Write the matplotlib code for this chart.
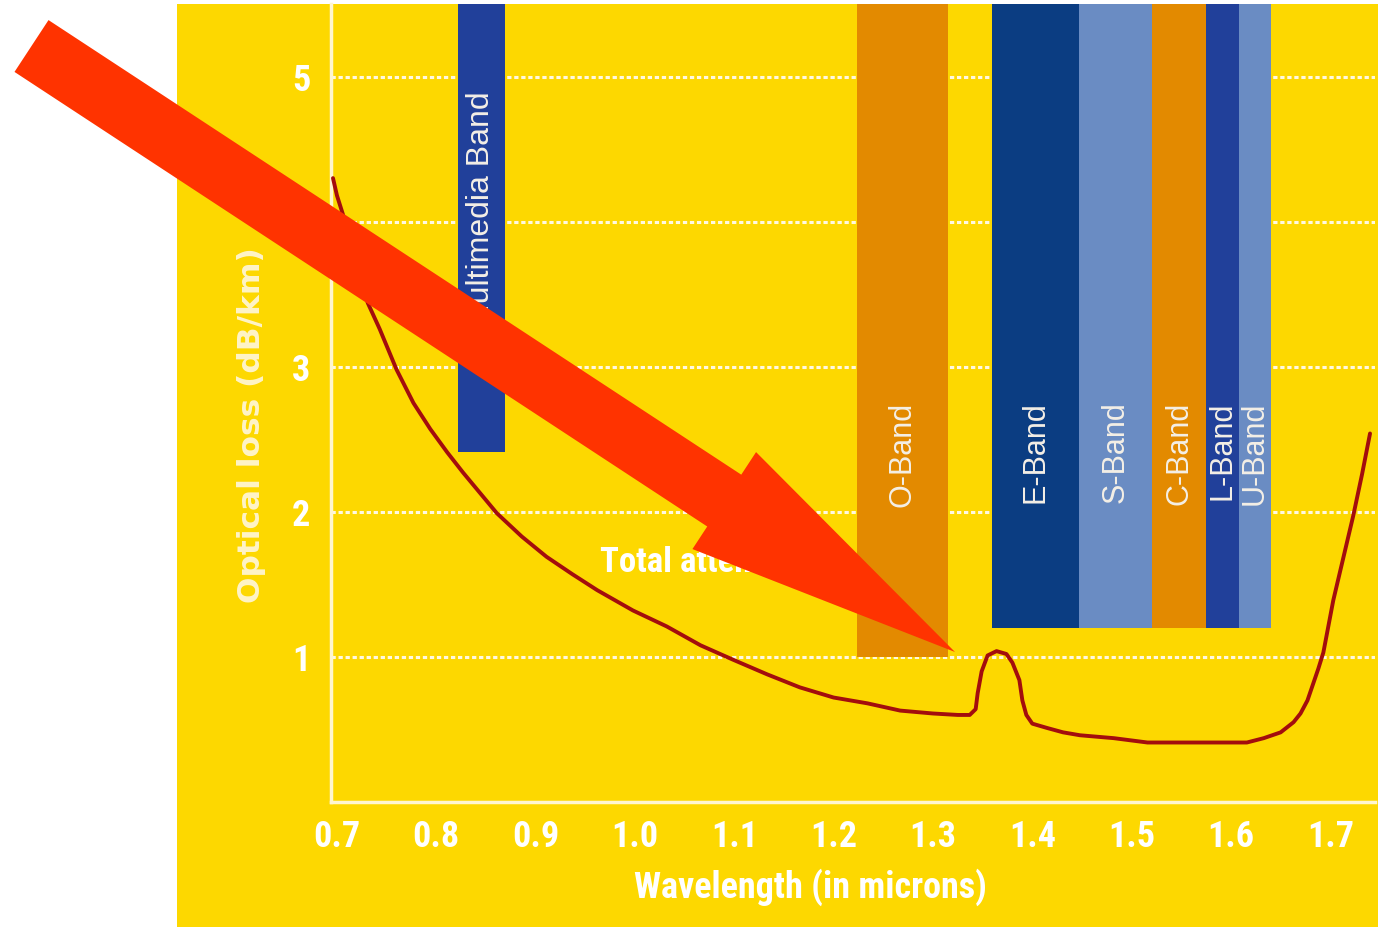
import numpy as np
import matplotlib
matplotlib.use('Agg')
import matplotlib.pyplot as plt
import matplotlib.transforms as mtransforms
from matplotlib.patches import Polygon, Rectangle
from matplotlib import font_manager

# Total attenuation curve (wavelength in microns, loss in dB/km)
wavelength = [0.696, 0.700, 0.706, 0.715, 0.731, 0.743, 0.760, 0.777, 0.794, 0.811,
              0.827, 0.844, 0.861, 0.886, 0.911, 0.937, 0.962, 0.998, 1.032, 1.066,
              1.099, 1.133, 1.166, 1.200, 1.234, 1.267, 1.300, 1.325, 1.337, 1.343,
              1.345, 1.349, 1.355, 1.364, 1.374, 1.380, 1.387, 1.390, 1.394, 1.400,
              1.415, 1.431, 1.448, 1.482, 1.516, 1.549, 1.582, 1.616, 1.633, 1.650,
              1.663, 1.670, 1.677, 1.683, 1.688, 1.693, 1.703, 1.713, 1.723, 1.732,
              1.740]
loss = [4.30, 4.18, 4.05, 3.80, 3.44, 3.26, 2.98, 2.75, 2.57, 2.41,
        2.27, 2.13, 1.99, 1.83, 1.69, 1.57, 1.46, 1.32, 1.21, 1.08,
        0.98, 0.88, 0.79, 0.72, 0.68, 0.63, 0.61, 0.60, 0.60, 0.64,
        0.75, 0.90, 1.01, 1.04, 1.02, 0.96, 0.84, 0.70, 0.60, 0.54,
        0.51, 0.48, 0.46, 0.44, 0.41, 0.41, 0.41, 0.41, 0.44, 0.48,
        0.55, 0.61, 0.70, 0.82, 0.92, 1.03, 1.39, 1.68, 1.97, 2.26,
        2.54]

# transmission bands
band_names = ['Multimedia Band', 'O-Band', 'E-Band', 'S-Band', 'C-Band', 'L-Band', 'U-Band']
band_start = [0.822, 1.224, 1.359, 1.447, 1.521, 1.575, 1.608]
band_end = [0.869, 1.315, 1.447, 1.521, 1.575, 1.608, 1.640]
band_floor = [2.41, 1.0, 1.2, 1.2, 1.2, 1.2, 1.2]
band_colors = ['#21409A', '#E38A00', '#0B3D82', '#6A8CC3', '#E38A00', '#21409A', '#6A8CC3']

x_ticks = [0.7, 0.8, 0.9, 1.0, 1.1, 1.2, 1.3, 1.4, 1.5, 1.6, 1.7]
y_ticks = [1, 2, 3, 4, 5]

yellow = '#FDD800'
W, H = 1378, 927

# look for a narrow bold face, the chart uses a condensed font
fonts = font_manager.fontManager.ttflist
names = {f.name for f in fonts}
narrow, stretch = None, 'normal'
for cand in ['Liberation Sans Narrow', 'Roboto Condensed', 'Open Sans Condensed', 'Noto Sans Condensed']:
    if cand in names:
        narrow = cand
        break
if narrow is None:
    for fam in ['Noto Sans', 'Open Sans', 'DejaVu Sans', 'Roboto']:
        if any(f.name == fam and f.stretch == 'condensed' for f in fonts):
            narrow, stretch = fam, 'condensed'
            break
if narrow is None:
    narrow = 'Liberation Sans' if 'Liberation Sans' in names else 'DejaVu Sans'
plain = 'Liberation Sans' if 'Liberation Sans' in names else 'DejaVu Sans'

fig = plt.figure(figsize=(W / 100, H / 100), dpi=100)
fig.patch.set_facecolor('white')

# yellow panel behind the chart
fig.add_artist(Rectangle((177 / W, 0), 1 - 177 / W, 1 - 4 / H, transform=fig.transFigure,
                         facecolor=yellow, edgecolor='none', zorder=-1))

ax = fig.add_axes([331 / W, 1 - 802 / H, (1375 - 331) / W, (802 - 4) / H])
ax.set_facecolor(yellow)
ax.set_xlim(0.694, 1.745)
ymax = 5.5
ax.set_ylim(0, ymax)

# dotted white grid
for yv in y_ticks:
    ax.axhline(yv, color='#FFF8E0', lw=2.2, ls=(0, (1.4, 0.9)), zorder=1)

# bands
ax.bar(band_start, [ymax - f for f in band_floor], bottom=band_floor,
       width=[e - s for s, e in zip(band_start, band_end)], align='edge',
       color=band_colors, zorder=2)

for name, s, e in zip(band_names, band_start, band_end):
    multi = name.startswith('Multi')
    ax.text((s + e) / 2, 4.9 if multi else 2.76, name, rotation=90, ha='center', va='top',
            color='#F4EFE6', fontsize=23 if multi else 22, family=plain, zorder=3)

# attenuation curve
ax.plot(wavelength, loss, color='#A30D0D', lw=2.8, zorder=4,
        solid_capstyle='round', solid_joinstyle='round')

ax.text(0.965, 1.65, 'Total attenuation', ha='left', va='center', color='white',
        fontsize=25, fontweight='bold', family=narrow, fontstretch=stretch, zorder=5)

# axes styling
for side in ['top', 'right']:
    ax.spines[side].set_visible(False)
for side in ['left', 'bottom']:
    ax.spines[side].set_color('#FFF6D0')
    ax.spines[side].set_linewidth(2.5)

ax.set_xticks(x_ticks)
ax.set_xticklabels([f'{v:.1f}' for v in x_ticks])
ax.set_yticks(y_ticks)
ax.set_yticklabels([str(v) for v in y_ticks])
ax.tick_params(length=0, colors='white')
ax.tick_params(axis='x', pad=12)
ax.tick_params(axis='y', pad=15)
for lab in ax.get_xticklabels() + ax.get_yticklabels():
    lab.set_fontsize(26)
    lab.set_fontweight('bold')
    lab.set_family(narrow)
    lab.set_fontstretch(stretch)

ax.set_xlabel('Wavelength (in microns)', color='white', fontsize=26, fontweight='bold',
              family=narrow, fontstretch=stretch)
ax.xaxis.set_label_coords((810 - 331) / (1375 - 331), -(868 - 802) / (802 - 4))
ax.set_ylabel('Optical loss (dB/km)', color='#FFF4C8', fontsize=22.5, fontweight='bold',
              family='DejaVu Sans')
ax.yaxis.set_label_coords(-(331 - 266) / (1375 - 331), (802 - 425) / (802 - 4))

# big red arrow drawn over everything (pixel coordinates of the picture)
tail = np.array([31.5, 46.0])
tip = np.array([955.0, 652.0])
u = (tip - tail) / np.linalg.norm(tip - tail)
n = np.array([-u[1], u[0]])
base = tip - 276 * u
verts = [tail + 31 * n, base + 31 * n, base + 58 * n, tip,
         base - 58 * n, base - 31 * n, tail - 31 * n]
to_display = mtransforms.Affine2D().scale(1, -1).translate(0, H)
fig.add_artist(Polygon(verts, closed=True, transform=to_display,
                       facecolor='#FF3300', edgecolor='none', zorder=10))

fig.savefig('out.png', dpi=100, facecolor='white')
